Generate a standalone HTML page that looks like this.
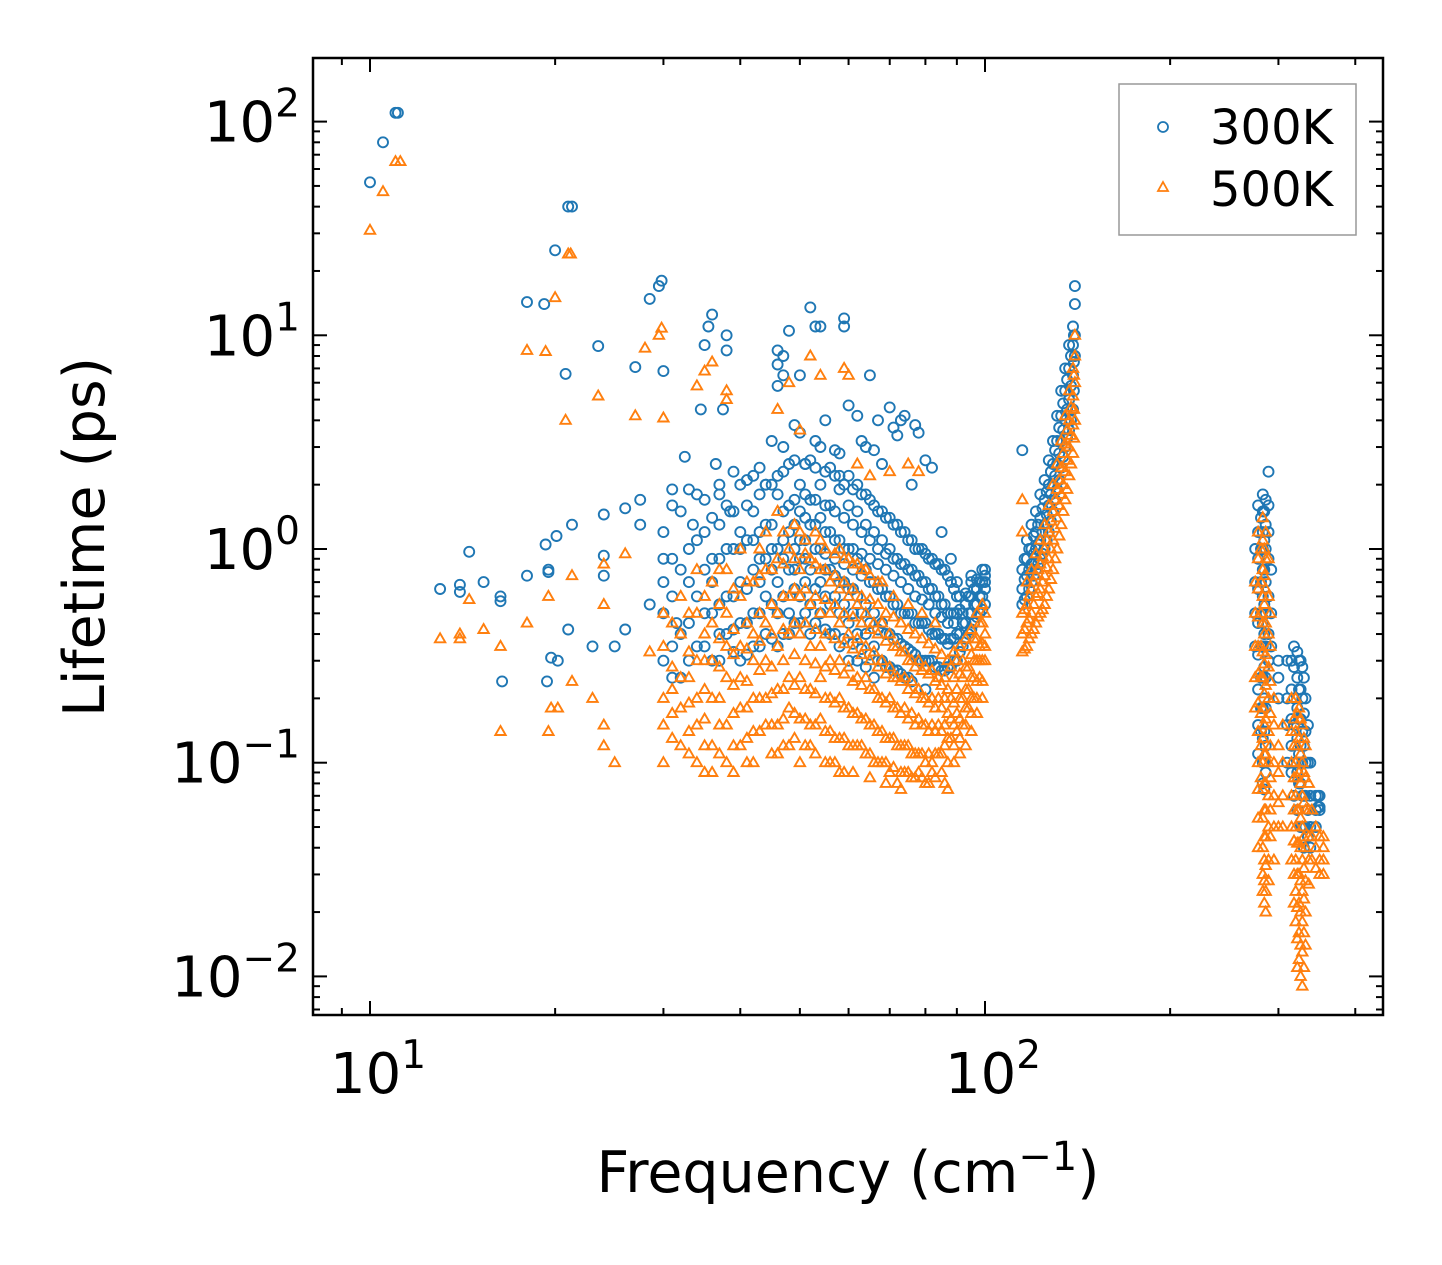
<!DOCTYPE html>
<html><head><meta charset="utf-8"><style>
html,body{margin:0;padding:0;background:#fff;}
svg{display:block;font-family:"DejaVu Sans","Liberation Sans",sans-serif;}
</style></head><body>
<svg id="chart" width="1442" height="1265" viewBox="0 0 1442 1265" xmlns="http://www.w3.org/2000/svg">
<rect width="1442" height="1265" fill="#fff"/>
<g id="marks300"></g>
<g id="marks500"></g>
<g id="axes"></g>
<rect x="313" y="58" width="1070" height="957" fill="none" stroke="#000" stroke-width="2.5"/>
<text x="848" y="1192" font-size="57" text-anchor="middle">Frequency (cm<tspan dy="-22" font-size="40">−1</tspan><tspan dy="22">)</tspan></text>
<text transform="translate(104,537) rotate(-90)" font-size="57" text-anchor="middle">Lifetime (ps)</text>
<g>
<rect x="1119" y="84" width="237" height="151" fill="#fff" stroke="#999" stroke-width="1.5"/>
<circle cx="1163" cy="127" r="5" fill="none" stroke="#1f77b4" stroke-width="1.8"/>
<text x="1210" y="144" font-size="48">300K</text>
<polygon points="1163,182 1168,191 1158,191" fill="none" stroke="#ff7f0e" stroke-width="1.8"/>
<text x="1210" y="206" font-size="48">500K</text>
</g>
</svg>
<script>
// ---- data (frequency in cm^-1, lifetime in ps) ----
const sparseF300=[10,10.5,11,11.1,13,14,14,14.5,15.3,16.3,16.3,16.4,18,18,19.2,19.3,19.5,19.5,19.7,19.4,20,20.1,20.2,20.8,21,21.3,21.3,21,23,23.5,24,24,24,25,26,26,27,27.5,27.5,28.5,28.5,29.5,29.8,30,30,31,31.5,32.5,33.5,34.5,35,35.5,36,36.5,37,37.5,38,38,38.5,40,42,43,44,45,46,46,46,47,47,48,49,50,51,52,53,54,55,57,58,59,59,60,62,63,64,65,66,67,68,70,71,72,73,74,76,77,78,80,82,85,88,90,95,100];
const sparseL300=[52,80,110,110,0.65,0.63,0.68,0.97,0.7,0.6,0.57,0.24,14.3,0.75,14,1.05,0.8,0.78,0.31,0.24,25,1.15,0.3,6.6,40,40,1.3,0.42,0.35,8.9,1.45,0.93,0.75,0.35,1.55,0.42,7.1,1.7,1.3,14.8,0.55,17,18,6.8,0.9,1.9,0.45,2.7,1.3,4.5,9,11,12.5,2.5,1.8,4.5,10,8.5,1.5,1.0,2.2,0.9,2.0,3.2,5.8,7.3,8.5,6.5,8,10.5,3.8,6.5,2.5,13.5,11,11,4,2.9,2.2,12,11,4.7,4.2,3.2,3,6.5,2.9,4,2.5,4.6,3.7,3.4,4,4.2,2,3.8,3.5,2.6,2.4,1.2,0.9,0.7,0.75,0.8];
const colF300=[30,32,34,36,38,40,42,44,46,48,50,52,54,56,58,60,62,64,66,68,70,72,74,76,78,80,82,84,86,88,90,92,94,96,98,100,
 31,33,35,37,39,41,43,45,47,49,51,53,55,57,59,61,63,65,67,69,71,73,75,77,79,81,83,85,87,89,91,93,95,97,99,
 115,117,119,121,123,125,127,129,131,133,135,137,139,140,
 116,118,120,122,124,126,128,130,132,134,136,138,139.5,
 281,283,286,289,300,310,318,322,326,330,335,345,348,
 275,278,284.5,292,315,324,328,332,338,350];
const colL300=[[0.5,0.3,1.2,0.7],[0.4,0.8,1.5,0.25],[0.6,1.1,0.35,1.8],[0.5,0.9,1.4,0.3,0.7],[0.6,1.6,0.4,1.0],[0.7,1.2,0.45,0.3,2.0],[0.8,1.5,0.5,0.35,1.1],[0.9,2.0,0.6,0.4,1.3],[1.0,1.8,0.7,0.5,2.2,0.35],[1.2,2.5,0.8,0.5,1.6,0.4],[1.5,2.0,0.9,0.6,1.1,0.45,3.5],[1.3,2.6,0.8,0.55,1.7,0.4],[1.0,2.0,0.7,0.5,1.4,3.0],[1.2,2.4,0.8,0.55,0.4,1.6],[1.1,1.9,0.7,0.5,0.35,2.8],[1.0,1.6,0.65,0.45,0.3,2.2],[0.9,1.5,0.6,0.4,0.3,2.0],[0.8,1.3,0.55,0.4,0.28,1.8],[0.7,1.2,0.5,0.35,0.25,1.6],[0.65,1.1,0.45,0.3,1.5],[0.6,1.0,0.4,0.28,1.4],[0.55,0.9,0.38,0.27,1.3],[0.5,0.85,0.35,0.25,1.2],[0.5,0.8,0.33,0.24,1.1],[0.45,0.75,0.3,1.0],[0.45,0.7,0.3,0.22,0.95],[0.4,0.65,0.3,0.9],[0.4,0.6,0.28,0.85],[0.38,0.55,0.27,0.8],[0.38,0.5,0.28,0.7],[0.4,0.5,0.3,0.6],[0.45,0.5,0.35],[0.5,0.6,0.4],[0.55,0.65,0.45],[0.6,0.7,0.5],[0.65,0.75,0.55,0.7],
 [0.35,0.6,0.9,1.6,0.25],[0.45,0.7,1.0,1.9,0.3],[0.5,0.8,1.2,0.35,1.7],[0.55,0.9,1.3,0.4,2.0,0.3],[0.6,1.0,1.5,0.42,2.3,0.33],[0.65,1.1,1.6,0.45,0.32,2.1],[0.7,1.2,1.8,0.5,0.35,2.4],[0.8,1.3,2.0,0.55,0.38,1.0],[0.9,1.5,2.3,0.6,0.4,1.1,3.0],[1.0,1.7,2.6,0.65,0.45,1.3,0.8],[1.1,1.8,2.5,0.7,0.5,1.4,0.9],[1.0,1.7,2.4,0.65,0.45,1.3,3.2],[0.95,1.6,2.3,0.6,0.42,1.2,0.8],[0.9,1.5,2.2,0.6,0.4,1.1,0.75],[0.85,1.4,2.0,0.55,0.38,1.0,0.7],[0.8,1.3,1.9,0.5,0.36,1.0,0.65],[0.75,1.2,1.8,0.5,0.34,0.95],[0.7,1.1,1.7,0.45,0.32,0.9],[0.65,1.0,1.5,0.42,0.3,0.85],[0.6,0.95,1.4,0.4,0.28,0.8],[0.55,0.9,1.3,0.38,0.27,0.75],[0.5,0.85,1.2,0.36,0.26,0.7],[0.5,0.8,1.1,0.34,0.25,0.65],[0.45,0.75,1.0,0.32,0.6],[0.45,0.7,1.0,0.3,0.58],[0.42,0.65,0.9,0.3,0.55],[0.4,0.6,0.85,0.28,0.5],[0.38,0.55,0.8,0.27,0.48],[0.36,0.5,0.75,0.28,0.45],[0.38,0.5,0.65,0.3,0.45],[0.4,0.52,0.6,0.33],[0.45,0.55,0.62,0.38],[0.5,0.6,0.7,0.42],[0.55,0.65,0.72,0.48],[0.6,0.7,0.8,0.52],
 [0.55,0.65,0.8,2.9],[0.6,0.75,0.9,1.1],[0.7,0.85,1.0,1.3],[0.8,1.0,1.2,1.5],[0.9,1.1,1.4,1.8],[1.0,1.3,1.7,2.1],[1.2,1.6,2.0,2.6],[1.5,2.0,2.5,3.2],[1.9,2.5,3.2,4.2],[2.4,3.2,4.2,5.5],[3.0,4.0,5.5,7],[3.6,5,7,9],[4.5,6.5,9,11],[8,10,14,17],
 [0.58,0.72,0.9],[0.65,0.8,1.0],[0.75,0.95,1.15],[0.85,1.05,1.3],[0.95,1.2,1.55],[1.1,1.45,1.85],[1.35,1.8,2.3],[1.7,2.2,2.9],[2.1,2.8,3.7],[2.7,3.6,4.8],[3.3,4.5,6.2],[4,5.8,8],[5.5,7.5,10],
 [1.4,1.0,0.7,0.5,0.35,0.25,0.18,0.14],[1.8,1.5,1.2,1.0,0.8,0.6,0.45,0.35,0.25,0.18,0.13,0.1,0.08],[1.7,1.3,1.0,0.7,0.5,0.35,0.25,0.18,0.12,0.09],[2.3,1.6,1.2,0.9,0.6,0.4,0.3],[0.3,0.25,0.2],[0.3,0.2,0.15,0.1],[0.35,0.28,0.2,0.15,0.1,0.07],[0.33,0.25,0.18,0.13,0.09,0.06],[0.3,0.22,0.16,0.12,0.08,0.05],[0.25,0.17,0.12,0.07,0.05,0.04],[0.15,0.1,0.06,0.045],[0.07,0.06,0.05],[0.07,0.062],
 [1.0,0.7,0.5,0.35],[1.6,1.2,0.9,0.65,0.45,0.32,0.22,0.15,0.11],[1.5,1.1,0.8,0.55,0.4,0.28,0.2,0.14,0.1,0.075],[0.8,0.5,0.35],[0.3,0.22,0.16,0.12,0.09],[0.3,0.22,0.16,0.11,0.08],[0.28,0.2,0.14,0.1,0.07,0.05],[0.2,0.14,0.1,0.07,0.05],[0.1,0.07,0.05,0.04],[0.07,0.062,0.06]];
const sparseF500=[10,10.5,11,11.2,13,14,14,14.5,15.3,16.3,16.3,18,18,19.3,19.5,19.5,19.7,20,20.2,20.8,21,21.2,21.3,21.3,23,23.5,24,24,24,24,25,26,27,28,28.5,29.5,29.8,30,34,35,36,38,38,46,48,50,52,54,59,60,62,65,70,75,78];
const sparseL500=[31,47,65,65,0.38,0.4,0.38,0.58,0.42,0.35,0.14,8.5,0.45,8.4,0.6,0.14,0.18,15,0.18,4,24,24,0.75,0.24,0.2,5.2,0.85,0.55,0.15,0.12,0.1,0.95,4.2,8.7,0.33,10,10.8,4.1,5.8,6.8,7.5,5.5,5,4.5,6,3.6,8,6.5,7,6.5,2.5,2.2,2.3,2.5,2.3];
const colF500=[30,32,34,36,38,40,42,44,46,48,50,52,54,56,58,60,62,64,66,68,70,72,74,76,78,80,82,84,86,88,90,92,94,96,98,100,
 31,33,35,37,39,41,43,45,47,49,51,53,55,57,59,61,63,65,67,69,71,73,75,77,79,81,83,85,87,89,91,93,95,97,99,
 115,117,119,121,123,125,127,129,131,133,135,137,139,140,
 116,118,120,122,124,126,128,130,132,134,136,138,139.5,
 281,283,286,289,295,305,315,320,324,328,332,340,350,
 275,278,284.5,291,300,318,322,326,330,336,345,355];
const colL500=[[0.2,0.15,0.35,0.1,0.5],[0.18,0.25,0.12,0.4,0.6],[0.2,0.3,0.1,0.15,0.5,0.8],[0.2,0.3,0.12,0.45,0.09,0.7],[0.25,0.35,0.15,0.5,0.1,0.8],[0.25,0.35,0.18,0.6,0.12,1.0],[0.3,0.4,0.2,0.7,0.14,0.1],[0.3,0.45,0.2,0.8,0.15,1.2],[0.35,0.5,0.22,0.9,0.15,0.11,1.5],[0.4,0.6,0.25,1.0,0.18,0.12],[0.4,0.6,0.25,1.2,0.16,0.1,0.8],[0.35,0.55,0.22,0.9,0.15,0.12],[0.35,0.5,0.25,0.8,0.16,1.1],[0.3,0.5,0.2,0.7,0.14,0.1],[0.3,0.45,0.2,0.65,0.13,0.09,1.0],[0.28,0.4,0.18,0.6,0.12,0.9],[0.25,0.38,0.17,0.55,0.12,0.85],[0.25,0.35,0.16,0.5,0.11,0.8],[0.22,0.33,0.15,0.45,0.1],[0.2,0.3,0.14,0.45,0.1,0.7],[0.2,0.28,0.13,0.4,0.09],[0.18,0.25,0.12,0.35,0.08],[0.18,0.25,0.12,0.33,0.09],[0.17,0.24,0.11,0.3,0.085],[0.16,0.22,0.11,0.3,0.09],[0.15,0.2,0.1,0.28,0.08],[0.15,0.2,0.1,0.27,0.09],[0.15,0.2,0.11,0.25],[0.15,0.2,0.12,0.25,0.08],[0.16,0.2,0.13,0.28],[0.17,0.22,0.14,0.3],[0.2,0.25,0.15,0.3],[0.22,0.28,0.18,0.35],[0.25,0.3,0.2,0.38],[0.3,0.35,0.25,0.45],[0.35,0.4,0.3,0.5],
 [0.13,0.17,0.22,0.28,0.45],[0.14,0.19,0.25,0.33,0.5,0.11],[0.12,0.16,0.22,0.3,0.4,0.6,0.09],[0.11,0.15,0.2,0.28,0.38,0.55,0.8],[0.12,0.17,0.23,0.32,0.42,0.65,0.09],[0.13,0.18,0.24,0.34,0.45,0.7,0.1],[0.14,0.2,0.27,0.37,0.5,0.75,1.0],[0.15,0.21,0.28,0.4,0.55,0.8,0.11],[0.16,0.22,0.3,0.42,0.6,0.85,1.2,0.12],[0.17,0.23,0.32,0.45,0.65,0.9,1.3,0.13],[0.16,0.22,0.3,0.45,0.65,0.95,1.1,0.12],[0.15,0.21,0.29,0.42,0.6,0.85,1.2,0.11],[0.14,0.2,0.28,0.4,0.58,0.8,1.0,0.1],[0.13,0.19,0.27,0.38,0.55,0.75,0.95,0.1],[0.13,0.18,0.26,0.36,0.5,0.7,0.9,0.09],[0.12,0.17,0.24,0.34,0.48,0.65,0.85,0.09],[0.12,0.16,0.23,0.32,0.45,0.6,0.8],[0.11,0.15,0.22,0.3,0.42,0.58,0.75,0.085],[0.1,0.14,0.2,0.28,0.4,0.55,0.7],[0.1,0.13,0.19,0.26,0.37,0.5,0.08],[0.095,0.13,0.18,0.25,0.35,0.48,0.6],[0.09,0.12,0.17,0.24,0.33,0.45,0.075],[0.09,0.12,0.16,0.22,0.3,0.42,0.55],[0.085,0.11,0.15,0.21,0.28,0.4],[0.085,0.11,0.15,0.2,0.27,0.38,0.5],[0.08,0.11,0.14,0.19,0.26,0.36],[0.085,0.11,0.14,0.18,0.24,0.34,0.45],[0.09,0.11,0.14,0.18,0.23,0.32],[0.075,0.1,0.13,0.17,0.22,0.3],[0.1,0.12,0.15,0.19,0.25,0.33],[0.11,0.13,0.16,0.2,0.26,0.35],[0.12,0.15,0.18,0.22,0.28,0.38],[0.14,0.17,0.2,0.25,0.32,0.42],[0.17,0.2,0.24,0.3,0.38,0.5],[0.2,0.24,0.3,0.36,0.45,0.55],
 [0.33,0.4,0.5,1.7,1.2],[0.35,0.45,0.55,0.7],[0.4,0.5,0.65,0.8],[0.45,0.6,0.75,0.95],[0.5,0.65,0.85,1.1],[0.55,0.75,1.0,1.3],[0.65,0.9,1.2,1.6],[0.8,1.1,1.5,2.0],[1.0,1.4,1.9,2.5],[1.3,1.8,2.4,3.2],[1.7,2.3,3.1,4.2],[2.2,3,4,5.5],[2.8,3.8,5.2,7],[4,6,8,10],
 [0.34,0.42,0.52],[0.38,0.47,0.6],[0.42,0.55,0.7],[0.48,0.62,0.8],[0.52,0.7,0.92],[0.6,0.82,1.1],[0.72,1.0,1.35],[0.9,1.25,1.7],[1.15,1.6,2.1],[1.5,2.0,2.8],[1.9,2.6,3.6],[2.5,3.4,4.6],[3.3,4.5,6.5],
 [1.0,0.7,0.5,0.35,0.25,0.17,0.12,0.085],[1.4,1.1,0.8,0.6,0.45,0.33,0.25,0.18,0.13,0.1,0.075,0.055,0.04,0.03,0.025],[1.2,0.9,0.65,0.45,0.32,0.23,0.16,0.11,0.08,0.06,0.045,0.033,0.025,0.02],[0.9,0.6,0.4,0.28,0.2,0.14,0.1,0.07,0.05,0.035,0.028],[0.2,0.15,0.1,0.07,0.05,0.035],[0.15,0.1,0.07,0.05],[0.2,0.14,0.1,0.07,0.05,0.035],[0.2,0.14,0.1,0.07,0.05,0.035,0.025,0.018],[0.18,0.13,0.09,0.06,0.042,0.03,0.022,0.016,0.012],[0.15,0.1,0.07,0.05,0.035,0.025,0.018,0.013,0.009],[0.12,0.085,0.06,0.04,0.028,0.02,0.014],[0.06,0.045,0.035],[0.045,0.035,0.03],
 [0.7,0.5,0.35,0.25,0.18],[1.2,0.9,0.65,0.48,0.35,0.26,0.19,0.14,0.1,0.075,0.055,0.04],[1.0,0.75,0.55,0.4,0.29,0.21,0.15,0.11,0.08,0.06,0.045,0.035,0.028,0.022],[0.5,0.35,0.24,0.17,0.12,0.085,0.06,0.045],[0.12,0.09,0.065,0.05],[0.16,0.12,0.085,0.06,0.043,0.03,0.022],[0.17,0.12,0.085,0.06,0.042,0.03,0.021,0.015,0.011],[0.16,0.11,0.08,0.055,0.04,0.028,0.02,0.014,0.01],[0.13,0.09,0.065,0.045,0.032,0.023,0.016,0.011],[0.08,0.06,0.045,0.035,0.027],[0.05,0.04,0.032],[0.045,0.04,0.035,0.03]];
const xTickExps=[1,2];
const yTickExps=[2,1,0,-1,-2];

// ---- axis functions ----
const X0=370, XPD=615, Y0=549, YPD=213.7;
const PL=313, PR=1383, PT=58, PB=1015;
function xs(f){return X0+(Math.log10(f)-1)*XPD;}
function ys(v){return Y0-Math.log10(v)*YPD;}
const NS="http://www.w3.org/2000/svg";
function mk(tag,attrs,parent){const e=document.createElementNS(NS,tag);for(const k in attrs)e.setAttribute(k,attrs[k]);parent.appendChild(e);return e;}

function pointsOf(sf,sl,cf,cl){const p=[];sf.forEach((f,i)=>p.push([f,sl[i]]));cf.forEach((f,i)=>cl[i].forEach(v=>p.push([f,v])));return p;}

const g3=document.getElementById('marks300');
pointsOf(sparseF300,sparseL300,colF300,colL300).forEach(([f,v])=>{
  const c=mk('circle',{cx:xs(f).toFixed(1),cy:ys(v).toFixed(1),r:5,fill:'none',stroke:'#1f77b4','stroke-width':1.9},g3);
  
  
});
const g5=document.getElementById('marks500');
pointsOf(sparseF500,sparseL500,colF500,colL500).forEach(([f,v])=>{
  const x=xs(f),y=ys(v);
  const t=mk('polygon',{points:`${x.toFixed(1)},${(y-5.5).toFixed(1)} ${(x+5.2).toFixed(1)},${(y+3.5).toFixed(1)} ${(x-5.2).toFixed(1)},${(y+3.5).toFixed(1)}`,fill:'none',stroke:'#ff7f0e','stroke-width':1.9},g5);
  
  
});

// ---- axes ----
const ax=document.getElementById('axes');
function tick(x1,y1,x2,y2){mk('line',{x1,y1,x2,y2,stroke:'#000','stroke-width':2},ax);}
for(let d=0;d<=2;d++){for(let m=1;m<=9;m++){const f=m*Math.pow(10,d);const x=xs(f);if(x<PL||x>PR)continue;const L=m===1?14:7;tick(x,PB,x,PB-L);tick(x,PT,x,PT+L);}}
xTickExps.forEach(e=>{
  const t=mk('text',{x:xs(Math.pow(10,e))+8,y:1093,'font-size':56,'text-anchor':'middle'},ax);
  
  
  t.innerHTML=`10<tspan dy="-25" font-size="39">${e}</tspan>`;
});
for(let d=-3;d<=2;d++){for(let m=1;m<=9;m++){const v=m*Math.pow(10,d);const y=ys(v);if(y<PT||y>PB)continue;const L=m===1?14:7;tick(PL,y,PL+L,y);tick(PR,y,PR-L,y);}}
yTickExps.forEach(e=>{
  const t=mk('text',{x:300,y:ys(Math.pow(10,e))+20,'font-size':56,'text-anchor':'end'},ax);
  
  
  t.innerHTML=`10<tspan dy="-25" font-size="39">${e<0?'−'+(-e):e}</tspan>`;
});
</script>
</body></html>
